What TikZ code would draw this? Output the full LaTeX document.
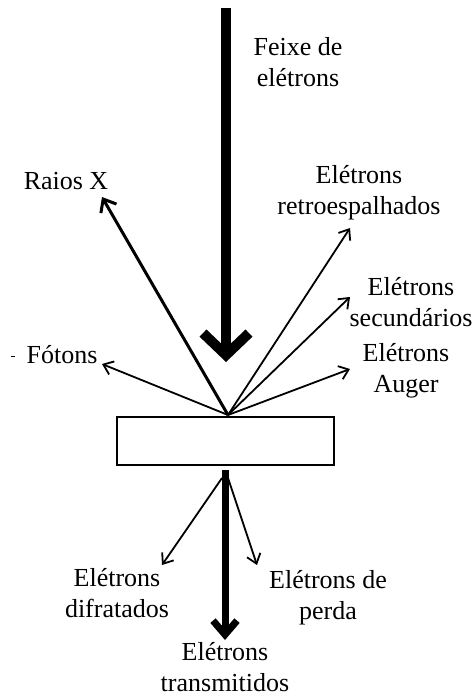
\documentclass[tikz,border=0pt]{standalone}
\usepackage{fontspec}
\setmainfont{Liberation Serif}
\usetikzlibrary{arrows.meta}
\begin{document}
\begin{tikzpicture}[x=1pt,y=-1pt,
  lbl/.style={align=center,inner sep=0pt,font=\fontsize{26}{31}\selectfont},
  thinarrow/.style={line width=1.8pt,-{Straight Barb[length=9pt,width=14pt,line width=1.8pt]}},
  medarrow/.style={line width=3pt,-{Straight Barb[length=11pt,width=18pt,line width=3pt]}},
  beam/.style={line width=10pt,-{Straight Barb[length=22pt,width=46pt,line width=10pt]}},
  transm/.style={line width=7pt,-{Straight Barb[length=14pt,width=24pt,line width=7pt]}},
  samplebox/.style={draw,line width=2pt,minimum width=217pt,minimum height=48pt,inner sep=0pt}]
\useasboundingbox (0,0) rectangle (474,699);
% sample
\node[samplebox] (sample) at (225.5,440.5) {};
% origin points
\coordinate (o) at (228,415);
\coordinate (b) at (225,470);
\coordinate (bl) at (222,478);
\coordinate (br) at (228,478);
% beam
\coordinate (beamtop) at (226,8);
\coordinate (beamtip) at (226,362);
\draw[beam] (beamtop) -- (beamtip);
\node[lbl] (feixe) at (298,62) {Feixe de\\elétrons};
% emitted
\coordinate (tx) at (102,197);
\coordinate (tf) at (102,364);
\coordinate (tr) at (350,228);
\coordinate (ts) at (350,297);
\coordinate (ta) at (350,369);
\draw[medarrow] (o) -- (tx);
\draw[thinarrow] (o) -- (tf);
\draw[thinarrow] (o) -- (tr);
\draw[thinarrow] (o) -- (ts);
\draw[thinarrow] (o) -- (ta);
\node[lbl] (raios) at (66,181) {Raios X};
\node[lbl] (fotons) at (62,355) {Fótons};
\draw[line width=1pt] (11,356) -- (15,356);
\node[lbl] (retro) at (359,193) {Elétrons\\retroespalhados};
\node[lbl] (secund) at (411,302) {Elétrons\\secundários};
\node[lbl] (auger) at (406,371) {Elétrons\\Auger};
% transmitted side
\coordinate (tt) at (225,640);
\coordinate (td) at (162,565);
\coordinate (tp) at (257,565);
\draw[transm] (b) -- (tt);
\draw[thinarrow] (bl) -- (td);
\draw[thinarrow] (br) -- (tp);
\node[lbl] (difr) at (117,593) {Elétrons\\difratados};
\node[lbl] (perda) at (328,598) {Elétrons de\\perda};
\node[lbl] (trans) at (225,667) {Elétrons\\transmitidos};
\end{tikzpicture}
\end{document}
